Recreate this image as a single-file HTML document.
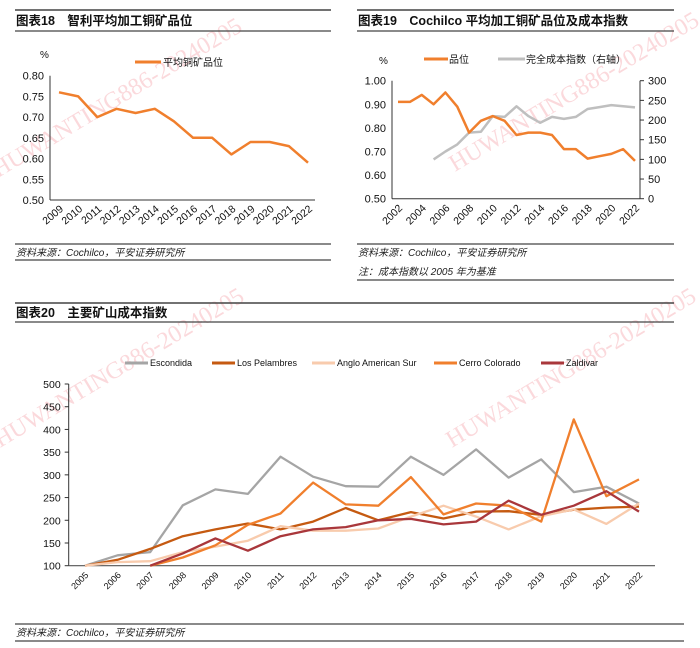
<!DOCTYPE html>
<html><head><meta charset="utf-8">
<style>
html,body{margin:0;padding:0;background:#fff;overflow:hidden;}
svg{display:block;font-family:"Liberation Sans","Noto Sans CJK SC",sans-serif;}
</style></head>
<body>
<svg id="root" width="700" height="648" viewBox="0 0 700 648" xmlns="http://www.w3.org/2000/svg">
<g fill="#f4a0a8" opacity="0.4" font-family="Liberation Serif, serif" font-size="24">
<text transform="translate(-2,178) rotate(-31)">HUWANTING886-20240205</text>
<text transform="translate(455,172) rotate(-31)">HUWANTING886-20240205</text>
<text transform="translate(0,448) rotate(-31)">HUWANTING886-20240205</text>
<text transform="translate(452,448) rotate(-31)">HUWANTING886-20240205</text>
</g>
<g>
<line x1="15" y1="10" x2="331" y2="10" stroke="#444" stroke-width="1.5"/>
<text x="16" y="25" font-size="12.5" font-weight="bold" fill="#111">图表18　智利平均加工铜矿品位</text>
<line x1="15" y1="31" x2="331" y2="31" stroke="#444" stroke-width="1.2"/>
</g>
<g>
<line x1="357" y1="10" x2="674" y2="10" stroke="#444" stroke-width="1.5"/>
<text x="358" y="25" font-size="12.5" font-weight="bold" fill="#111">图表19　Cochilco 平均加工铜矿品位及成本指数</text>
<line x1="357" y1="31" x2="674" y2="31" stroke="#444" stroke-width="1.2"/>
</g>
<g>
<line x1="15" y1="244" x2="331" y2="244" stroke="#444" stroke-width="1.2"/>
<text x="16" y="256" font-size="10" font-style="italic" fill="#222">资料来源：Cochilco，平安证券研究所</text>
<line x1="15" y1="260" x2="331" y2="260" stroke="#444" stroke-width="1.2"/>
</g>
<g>
<line x1="357" y1="244" x2="674" y2="244" stroke="#444" stroke-width="1.2"/>
<text x="358" y="256" font-size="10" font-style="italic" fill="#222">资料来源：Cochilco，平安证券研究所</text>
<text x="358" y="275" font-size="10" font-style="italic" fill="#222">注：成本指数以 2005 年为基准</text>
<line x1="357" y1="280" x2="674" y2="280" stroke="#444" stroke-width="1.2"/>
</g>
<g>
<line x1="15" y1="303" x2="674" y2="303" stroke="#444" stroke-width="1.5"/>
<text x="16" y="317" font-size="12.5" font-weight="bold" fill="#111">图表20　主要矿山成本指数</text>
<line x1="15" y1="322" x2="674" y2="322" stroke="#444" stroke-width="1.2"/>
</g>
<g>
<line x1="15" y1="624" x2="684" y2="624" stroke="#444" stroke-width="1.2"/>
<text x="16" y="636" font-size="10" font-style="italic" fill="#222">资料来源：Cochilco，平安证券研究所</text>
<line x1="15" y1="641" x2="684" y2="641" stroke="#444" stroke-width="1.2"/>
</g>
<g id="c18"></g>
<g id="c19"></g>
<g id="c20"></g>
</svg>
<script>
const NS="http://www.w3.org/2000/svg";
function mk(parent,tag,attrs,txt){const e=document.createElementNS(NS,tag);for(const k in attrs)e.setAttribute(k,attrs[k]);if(txt!==undefined)e.textContent=txt;parent.appendChild(e);return e;}

// ===== Chart 18 data =====
const c18Years=["2009","2010","2011","2012","2013","2014","2015","2016","2017","2018","2019","2020","2021","2022"];
const c18Grade=[0.76,0.75,0.70,0.72,0.71,0.72,0.69,0.65,0.65,0.61,0.64,0.64,0.63,0.59];
const c18Ticks=[0.50,0.55,0.60,0.65,0.70,0.75,0.80];

// ===== Chart 19 data =====
const c19Years=["2002","2003","2004","2005","2006","2007","2008","2009","2010","2011","2012","2013","2014","2015","2016","2017","2018","2019","2020","2021","2022"];
const c19Grade=[0.91,0.91,0.94,0.90,0.95,0.89,0.78,0.83,0.85,0.83,0.77,0.78,0.78,0.77,0.71,0.71,0.67,0.68,0.69,0.71,0.66];
const c19Cost=[null,null,null,100,120,138,168,170,210,208,235,210,193,208,203,208,228,233,238,235,232];
const c19LeftTicks=[0.50,0.60,0.70,0.80,0.90,1.00];
const c19RightTicks=[0,50,100,150,200,250,300];

// ===== Chart 20 data =====
const c20Years=["2005","2006","2007","2008","2009","2010","2011","2012","2013","2014","2015","2016","2017","2018","2019","2020","2021","2022"];
const c20Escondida=[100,123,130,233,268,258,340,296,275,274,340,300,356,294,334,262,274,237];
const c20Pelambres=[100,113,137,165,180,193,180,197,227,200,218,204,219,220,212,223,228,230];
const c20Anglo=[100,108,110,130,142,155,187,177,177,182,208,232,208,180,209,224,192,237];
const c20Cerro=[null,null,100,118,145,190,215,283,235,232,295,213,237,232,197,422,253,290];
const c20Zaldivar=[null,null,100,127,160,133,165,180,185,200,203,191,197,243,212,232,264,219];
const c20Ticks=[100,150,200,250,300,350,400,450,500];

function path(vals,xf,yf){let d="",pen=false;vals.forEach((v,i)=>{if(v===null){pen=false;return;}d+=(pen?"L":"M")+xf(i).toFixed(1)+" "+yf(v).toFixed(1)+" ";pen=true;});return d;}

// ---------- Chart 18 ----------
(function(){
const g=document.getElementById("c18");
const L=50,R=315,T=75.7,B=200,x0=59,x1=308;
const x=i=>x0+(x1-x0)*i/(c18Years.length-1);
const y=v=>B-(v-0.50)/(0.80-0.50)*(B-T);
let a=mk(g,"line",{x1:L,y1:T,x2:L,y2:B,stroke:"#333","stroke-width":1});


a=mk(g,"line",{x1:L,y1:B,x2:R,y2:B,stroke:"#333","stroke-width":1});


c18Ticks.forEach(t=>{const e=mk(g,"text",{x:L-6,y:y(t)+4,"font-size":11,"text-anchor":"end",fill:"#111"},t.toFixed(2));

});
c18Years.forEach((yr,i)=>{const e=mk(g,"text",{transform:`translate(${x(i)+5},${B+10}) rotate(-40)`,"font-size":10.5,"text-anchor":"end",fill:"#111"},yr);

});
let u=mk(g,"text",{x:40,y:58,"font-size":10,fill:"#111"},"%");


const lg=mk(g,"g",{});


mk(lg,"line",{x1:135,y1:62,x2:161,y2:62,stroke:"#F07F2D","stroke-width":3});
mk(lg,"text",{x:163,y:66,"font-size":10,fill:"#111"},"平均铜矿品位");
const p=mk(g,"path",{d:path(c18Grade,x,y),fill:"none",stroke:"#F07F2D","stroke-width":2.5,"stroke-linejoin":"round"});


})();

// ---------- Chart 19 ----------
(function(){
const g=document.getElementById("c19");
const L=392,R=640,T=80.7,B=198.7,x0=398,x1=635;
const x=i=>x0+(x1-x0)*i/(c19Years.length-1);
const yl=v=>B-(v-0.50)/(1.00-0.50)*(B-T);
const yr=v=>B-v/300*(B-T);
let a=mk(g,"line",{x1:L,y1:T,x2:L,y2:B,stroke:"#333","stroke-width":1});


a=mk(g,"line",{x1:R,y1:T,x2:R,y2:B,stroke:"#333","stroke-width":1});


a=mk(g,"line",{x1:L,y1:B,x2:R,y2:B,stroke:"#333","stroke-width":1});


c19LeftTicks.forEach(t=>{const e=mk(g,"text",{x:L-6,y:yl(t)+4,"font-size":11,"text-anchor":"end",fill:"#111"},t.toFixed(2));

});
c19RightTicks.forEach(t=>{mk(g,"line",{x1:R,y1:yr(t),x2:R+4,y2:yr(t),stroke:"#333"});const e=mk(g,"text",{x:R+8,y:yr(t)+4,"font-size":11,fill:"#111"},t);

});
c19Years.forEach((yrr,i)=>{if(i%2)return;const e=mk(g,"text",{transform:`translate(${x(i)+5},${B+10}) rotate(-45)`,"font-size":10.5,"text-anchor":"end",fill:"#111"},yrr);

});
let u=mk(g,"text",{x:379,y:64,"font-size":10,fill:"#111"},"%");


let lg=mk(g,"g",{});


mk(lg,"line",{x1:424,y1:59,x2:448,y2:59,stroke:"#F07F2D","stroke-width":3});
mk(lg,"text",{x:449,y:63,"font-size":10,fill:"#111"},"品位");
lg=mk(g,"g",{});


mk(lg,"line",{x1:498,y1:59,x2:525,y2:59,stroke:"#BFBFBF","stroke-width":3});
mk(lg,"text",{x:526,y:63,"font-size":10,fill:"#111"},"完全成本指数（右轴）");
let p=mk(g,"path",{d:path(c19Cost,x,yr),fill:"none",stroke:"#BFBFBF","stroke-width":2.5,"stroke-linejoin":"round"});


p=mk(g,"path",{d:path(c19Grade,x,yl),fill:"none",stroke:"#F07F2D","stroke-width":2.5,"stroke-linejoin":"round"});


})();

// ---------- Chart 20 ----------
(function(){
const g=document.getElementById("c20");
const L=68.7,R=655,T=384,B=565.7,x0=85,x1=639;
const x=i=>x0+(x1-x0)*i/(c20Years.length-1);
const y=v=>B-(v-100)/(500-100)*(B-T);
let a=mk(g,"line",{x1:L,y1:T,x2:L,y2:B,stroke:"#333","stroke-width":1});


a=mk(g,"line",{x1:L,y1:B,x2:R,y2:B,stroke:"#555","stroke-width":1.2});


c20Ticks.forEach(t=>{mk(g,"line",{x1:L-4,y1:y(t),x2:L,y2:y(t),stroke:"#333"});const e=mk(g,"text",{x:L-8,y:y(t)+4,"font-size":10.5,"text-anchor":"end",fill:"#111"},t);

});
c20Years.forEach((yr,i)=>{const e=mk(g,"text",{transform:`translate(${x(i)+4},${B+10}) rotate(-45)`,"font-size":9,"text-anchor":"end",fill:"#111"},yr);

});
const series=[
 ["Escondida",c20Escondida,"#A5A5A5",125],
 ["Los Pelambres",c20Pelambres,"#C55A11",212],
 ["Anglo American Sur",c20Anglo,"#F8CBAD",312],
 ["Cerro Colorado",c20Cerro,"#F07F2D",434],
 ["Zaldivar",c20Zaldivar,"#A9373B",541]];
series.forEach(s=>{
 const lg=mk(g,"g",{});
 
 
 mk(lg,"line",{x1:s[3],y1:363,x2:s[3]+23,y2:363,stroke:s[2],"stroke-width":3});
 mk(lg,"text",{x:s[3]+25,y:366,"font-size":9,fill:"#111"},s[0]);
});
series.forEach(s=>{
 const p=mk(g,"path",{d:path(s[1],x,y),fill:"none",stroke:s[2],"stroke-width":2.3,"stroke-linejoin":"round"});
 
 
});
})();
</script>
</body></html>
